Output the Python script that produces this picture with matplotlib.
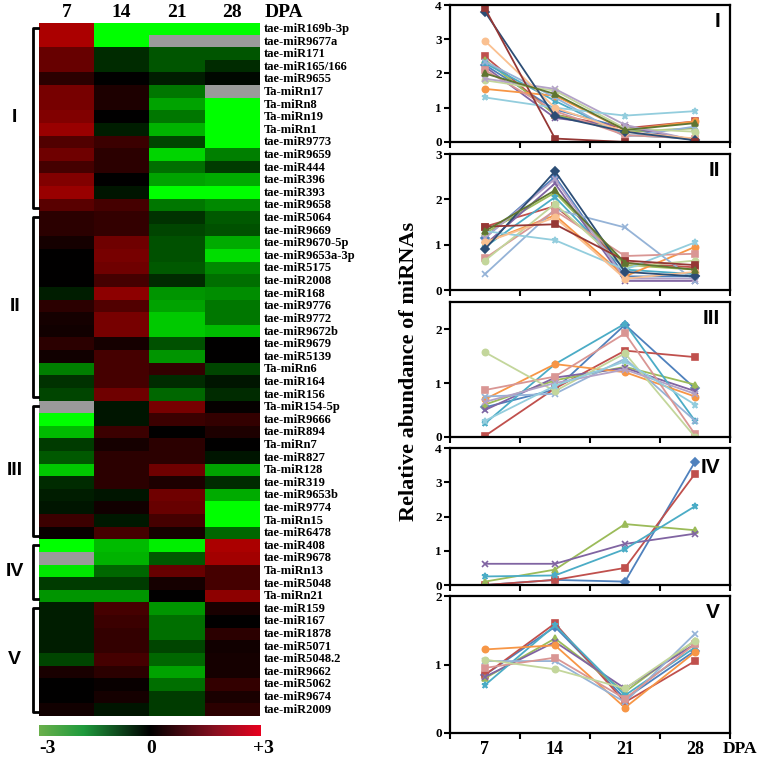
import matplotlib.pyplot as plt
import numpy as np
from matplotlib.colors import LinearSegmentedColormap

plt.rcParams["font.family"] = ["Liberation Serif", "DejaVu Serif"]
plt.rcParams["font.weight"] = "bold"

NA = np.nan
DPA = ["7", "14", "21", "28"]

# === heatmap (log2 ratio, -3..+3) ===
groups = ["I", "II", "III", "IV", "V"]

names_I = ["tae-miR169b-3p", "tae-miR9677a", "tae-miR171", "tae-miR165/166", "tae-miR9655",
           "Ta-miRn17", "Ta-miRn8", "Ta-miRn19", "Ta-miRn1", "tae-miR9773", "tae-miR9659",
           "tae-miR444", "tae-miR396", "tae-miR393", "tae-miR9658"]
heat_I = [[2.0, -3, -3, -3], [2.0, -3, NA, NA], [1.2, -0.5, -1.0, -1.0], [1.2, -0.5, -1.0, -0.5],
          [0.5, 0, -0.35, -0.1], [1.4, 0.35, -1.4, NA], [1.4, 0.35, -1.9, -3], [1.5, 0, -1.4, -3],
          [1.8, -0.35, -2.1, -3], [0.95, 0.7, -0.8, -3], [1.3, 0.5, -2.5, -1.5], [0.8, 0.5, -1.3, -0.7],
          [1.5, 0, -1.9, -2.0], [1.8, -0.25, -3, -3], [1.05, 0.8, -1.4, -1.6]]

names_II = ["tae-miR5064", "tae-miR9669", "tae-miR9670-5p", "tae-miR9653a-3p", "tae-miR5175",
            "tae-miR2008", "tae-miR168", "tae-miR9776", "tae-miR9772", "tae-miR9672b", "tae-miR9679",
            "tae-miR5139", "Ta-miRn6", "tae-miR164", "tae-miR156"]
heat_II = [[0.5, 0.6, -0.6, -1.05], [0.5, 0.6, -0.8, -0.95], [0.25, 1.3, -0.95, -2.0],
           [0, 1.4, -0.95, -2.6], [0, 1.3, -1.05, -1.6], [0, 0.8, -0.5, -1.3], [-0.35, 1.65, -1.75, -1.65],
           [0.5, 0.95, -1.9, -1.4], [0.25, 1.4, -2.35, -1.4], [0.2, 1.4, -2.35, -2.2], [0.5, 0.25, -0.95, 0],
           [0.2, 0.8, -1.75, 0], [-1.5, 0.8, 0.6, -0.8], [-0.6, 0.8, -0.5, -0.25], [-0.8, 1.3, -1.2, -0.5]]

names_III = ["Ta-miR154-5p", "tae-miR9666", "tae-miR894", "Ta-miRn7", "tae-miR827", "Ta-miR128",
             "tae-miR319", "tae-miR9653b", "tae-miR9774", "Ta-miRn15", "tae-miR6478"]
heat_III = [[NA, -0.25, 1.4, 0.05], [-3, -0.25, 0.7, 0.6], [-2.2, 0.7, 0, 0.35], [-0.7, 0.25, 0.5, 0],
            [-1.05, 0.5, 0.5, -0.25], [-2.35, 0.5, 1.3, -1.9], [-0.5, 0.5, 0.35, -0.5],
            [-0.35, -0.25, 1.3, -2.0], [-0.25, 0.2, 1.2, -3], [0.7, -0.3, 0.8, -3], [0.1, 0.8, 0.25, -1.2]]

names_IV = ["tae-miR408", "tae-miR9678", "Ta-miRn13", "tae-miR5048", "Ta-miRn21"]
heat_IV = [[-3, -2.2, -2.8, 2.0], [NA, -2.1, -1.05, 1.9], [-2.7, -1.2, 1.2, 0.8],
           [-0.7, -0.7, 0.25, 0.8], [-1.75, -1.75, 0, 1.65]]

names_V = ["tae-miR159", "tae-miR167", "tae-miR1878", "tae-miR5071", "tae-miR5048.2",
           "tae-miR9662", "tae-miR5062", "tae-miR9674", "tae-miR2009"]
heat_V = [[-0.35, 0.8, -1.75, 0.3], [-0.35, 0.7, -1.3, 0], [-0.35, 0.6, -1.3, 0.5],
          [-0.35, 0.6, -0.8, 0.2], [-0.8, 0.8, -1.2, 0.25], [0.3, 0.5, -1.9, 0.25],
          [0, 0.1, -1.3, 0.6], [0, 0.25, -0.7, 0.3], [0.2, -0.25, -0.7, 0.5]]

# === relative abundance per cluster (7, 14, 21, 28 DPA) ===
lines_I = [[2.25, 0.95, 0.4, 0.05], [2.5, 0.8, 0.4, 0.6], [2.4, 0.8, 0.3, 0.4], [2.2, 0.7, 0.45, 0.05],
           [2.3, 1.2, 0.2, 0.1], [1.55, 1.35, 0.35, 0.6], [2.35, 1.3, 0.15, 0.45], [2.1, 0.9, 0.2, 0.1],
           [1.8, 1.5, 0.4, 0.3], [1.85, 1.55, 0.5, 0.05], [1.3, 1.0, 0.77, 0.9], [2.95, 1.0, 0.3, 0.1],
           [3.8, 0.75, 0.3, 0.05], [3.9, 0.1, 0.0, 0.0], [2.0, 1.4, 0.35, 0.55]]
lines_II = [[1.15, 2.5, 0.3, 0.3], [1.4, 1.85, 0.6, 0.5], [1.25, 2.15, 0.55, 0.45], [1.0, 2.35, 0.2, 0.2],
            [0.95, 2.05, 0.45, 0.35], [1.05, 1.65, 0.3, 0.95], [0.35, 1.78, 1.38, 0.2], [0.7, 1.75, 0.75, 0.8],
            [0.65, 1.9, 0.5, 0.65], [1.15, 2.45, 0.25, 0.25], [1.3, 1.1, 0.45, 1.05], [1.05, 1.6, 0.25, 0.4],
            [0.9, 2.62, 0.4, 0.3], [1.4, 1.45, 0.65, 0.55], [1.3, 2.2, 0.6, 0.45]]
lines_III = [[0.55, 0.88, 2.08, 0.9], [0.02, 0.9, 1.6, 1.48], [0.6, 1.05, 1.3, 0.97], [0.5, 1.1, 1.28, 0.85],
             [0.25, 1.35, 2.1, 0.3], [0.7, 1.35, 1.2, 0.75], [0.75, 0.8, 1.45, 0.3], [0.87, 1.12, 1.92, 0.05],
             [1.57, 0.85, 1.55, 0.0], [0.65, 1.0, 1.25, 0.8], [0.3, 0.95, 1.4, 0.6]]
lines_IV = [[0.0, 0.15, 0.1, 3.6], [0.0, 0.15, 0.5, 3.25], [0.1, 0.45, 1.78, 1.6],
            [0.62, 0.62, 1.2, 1.5], [0.25, 0.28, 1.05, 2.3]]
lines_V = [[0.85, 1.55, 0.5, 1.2], [0.85, 1.6, 0.45, 1.05], [0.8, 1.38, 0.6, 1.35], [0.82, 1.33, 0.65, 1.3],
           [0.7, 1.57, 0.55, 1.25], [1.22, 1.28, 0.37, 1.18], [1.05, 1.05, 0.45, 1.45], [0.95, 1.1, 0.5, 1.3],
           [1.07, 0.93, 0.65, 1.35]]
ylims = [4, 3, 2.5, 4, 2]

palette = ["#4F81BD", "#C0504D", "#9BBB59", "#8064A2", "#4BACC6", "#F79646", "#95B3D7", "#D99694",
           "#C3D69B", "#B3A2C7", "#93CDDD", "#FAC090", "#2C4D75", "#953735", "#5F7530"]
markers = ["D", "s", "^", "x", "*", "o", "x", "s", "o", "x", "*", "o", "D", "s", "^"]

cell_cmap = LinearSegmentedColormap.from_list("gkr", [(0, "#00ff00"), (0.5, "#000000"), (1, "#ff0000")])
cell_cmap.set_bad("#9a9a9a")
bar_cmap = LinearSegmentedColormap.from_list(
    "bar", [(0, "#6ab04c"), (0.2, "#1f9a3c"), (0.5, "#000000"), (0.8, "#8a1020"), (1, "#e8001e")])

names = names_I + names_II + names_III + names_IV + names_V
heat_groups = [heat_I, heat_II, heat_III, heat_IV, heat_V]
heat = np.array(sum(heat_groups, []), dtype=float)

fig = plt.figure(figsize=(7.64, 7.58), dpi=100)

# --- heatmap ---
ax = fig.add_axes([0.051, 0.0554, 0.288, 0.9147])
ax.imshow(np.ma.masked_invalid(heat), cmap=cell_cmap, vmin=-3, vmax=3, aspect="auto",
          interpolation="nearest")
ax.set_xlim(-0.5, 3.5)
ax.set_ylim(len(names) - 0.5, -0.5)
ax.set_xticks([])
ax.set_yticks([])
for s in ax.spines.values():
    s.set_visible(False)

for i, nm in enumerate(names):
    ax.text(3.58, i, nm, fontsize=9, fontweight="bold", va="center", ha="left")
for j, d in enumerate(DPA):
    ax.text(j, -1.3, d, fontsize=14, fontweight="bold", ha="center", va="center")
ax.text(3.6, -1.3, "DPA", fontsize=14, fontweight="bold", ha="left", va="center")

# brackets + cluster labels
start = 0
for g, rows in zip(groups, heat_groups):
    y0 = start - 0.5 + 0.4
    y1 = start + len(rows) - 0.5 - 0.3
    bx, sx = -0.61, -0.52
    ax.plot([sx, bx, bx, sx], [y0, y0, y1, y1], color="black", lw=2, clip_on=False,
            solid_joinstyle="round")
    ax.text(-0.94, (y0 + y1) / 2, g, fontsize=14, fontweight="bold", ha="center", va="center",
            family=["Liberation Sans", "DejaVu Sans"])
    start += len(rows)

# colour bar
cax = fig.add_axes([0.0505, 0.0288, 0.2905, 0.0145])
cax.imshow(np.linspace(-3, 3, 256)[None, :], cmap=bar_cmap, aspect="auto", extent=[-3, 3, 0, 1])
cax.set_xticks([])
cax.set_yticks([])
for s in cax.spines.values():
    s.set_visible(False)
fig.text(0.051, 0.013, "-3", fontsize=14, fontweight="bold", ha="left", va="center")
fig.text(0.198, 0.013, "0", fontsize=14, fontweight="bold", ha="center", va="center")
fig.text(0.358, 0.013, "+3", fontsize=14, fontweight="bold", ha="right", va="center")

# --- line panels ---
panel_rects = [[0.589, 0.8127, 0.3665, 0.1807], [0.589, 0.6174, 0.3665, 0.1794],
               [0.589, 0.4235, 0.3665, 0.1780], [0.589, 0.2282, 0.3665, 0.1807],
               [0.589, 0.0330, 0.3665, 0.1807]]
all_lines = [lines_I, lines_II, lines_III, lines_IV, lines_V]
x = np.arange(1, 5)

for k, (rect, series, ymax, g) in enumerate(zip(panel_rects, all_lines, ylims, groups)):
    pax = fig.add_axes(rect)
    for n, vals in enumerate(series):
        pax.plot(x, vals, color=palette[n % len(palette)], marker=markers[n % len(markers)],
                 ms=4.5, lw=1.3, mew=1.2)
    pax.set_xlim(0.5, 4.5)
    pax.set_ylim(0, ymax)
    pax.set_yticks(range(0, int(ymax) + 1))
    pax.set_xticks([0.5, 1.5, 2.5, 3.5, 4.5])
    pax.set_xticklabels([])
    pax.tick_params(axis="both", direction="out", width=1.5, length=4, labelsize=9.5, pad=2)
    for lab in pax.get_yticklabels():
        lab.set_fontweight("bold")
    for s in pax.spines.values():
        s.set_linewidth(1.6)
    ty = 0.88 if g != "IV" else 0.86
    pax.text(0.965, ty, g, transform=pax.transAxes, fontsize=15, fontweight="bold",
             ha="right", va="center", family=["Liberation Sans", "DejaVu Sans"])
    if k == 4:
        for xi, d in zip(x, DPA):
            pax.text(xi, -0.12, d, fontsize=13, fontweight="bold", ha="center", va="center",
                     transform=pax.get_xaxis_transform())
        pax.text(4.4, -0.12, "DPA", fontsize=12.5, fontweight="bold", ha="left", va="center",
                 transform=pax.get_xaxis_transform())

fig.text(0.535, 0.51, "Relative abundance of miRNAs", rotation=90, fontsize=16,
         fontweight="bold", ha="center", va="center")

fig.savefig("out.png", dpi=100)
